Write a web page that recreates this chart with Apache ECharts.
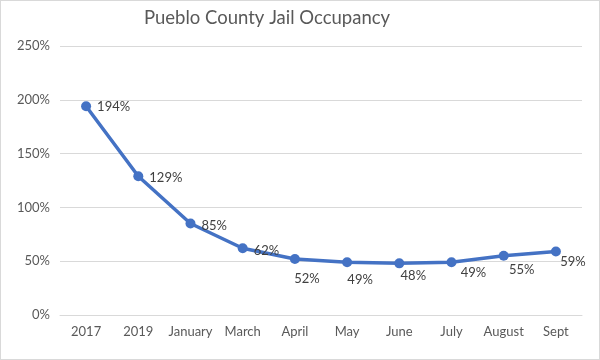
<!DOCTYPE html>
<html><head><meta charset="utf-8">
<script src="https://cdn.jsdelivr.net/npm/echarts@6/dist/echarts.min.js"></script>
<style>html,body{margin:0;padding:0;background:#fff}#c{width:600px;height:360px;box-sizing:border-box;border:1px solid #d9d9d9}</style>
</head><body><div id="c"></div>
<script>
const categories = ['2017','2019','January','March','April','May','June','July','August','Sept'];
const occupancy = [194,129,85,62,52,49,48,49,55,59];
const yTicks = [0,50,100,150,200,250];

const labelOffsets = [[0,1],[0,2],[0,2],[0,3],[12,2],[13,0],[14,-5],[22,-7],[18,-4],[17,-7]];
const labelPos = ['right','right','right','right','bottom','bottom','bottom','bottom','bottom','bottom'];
const font = 'Lato, "Liberation Sans", sans-serif';
const chart = echarts.init(document.getElementById('c'));
chart.setOption({
  animation:false,
  title:{text:'Pueblo County Jail Occupancy',left:138,top:3,textStyle:{fontFamily:font,fontSize:18.5,fontWeight:'normal',color:'#595959'}},
  grid:{left:59,right:17,top:45,bottom:44},
  xAxis:{type:'category',data:categories,boundaryGap:true,
    axisLine:{lineStyle:{color:'#d9d9d9'}},axisTick:{show:false},
    axisLabel:{interval:0,fontFamily:font,fontSize:13,color:'#595959',margin:10}},
  yAxis:{type:'value',min:yTicks[0],max:yTicks[yTicks.length-1],interval:50,
    axisLine:{show:false},axisTick:{show:false},
    splitLine:{lineStyle:{color:'#d9d9d9'}},
    axisLabel:{fontFamily:font,fontSize:13,color:'#595959',margin:10,formatter:v=>v+'%'}},
  series:[{type:'line',data:occupancy.map((v,i)=>({value:v,label:{position:labelPos[i],offset:labelOffsets[i]}})),
    symbol:'circle',symbolSize:10,
    lineStyle:{color:'#4472C4',width:3.5},itemStyle:{color:'#4472C4'},
    label:{show:true,formatter:p=>p.value+'%',fontFamily:font,fontSize:13,color:'#404040',distance:6}}]
});
</script></body></html>
